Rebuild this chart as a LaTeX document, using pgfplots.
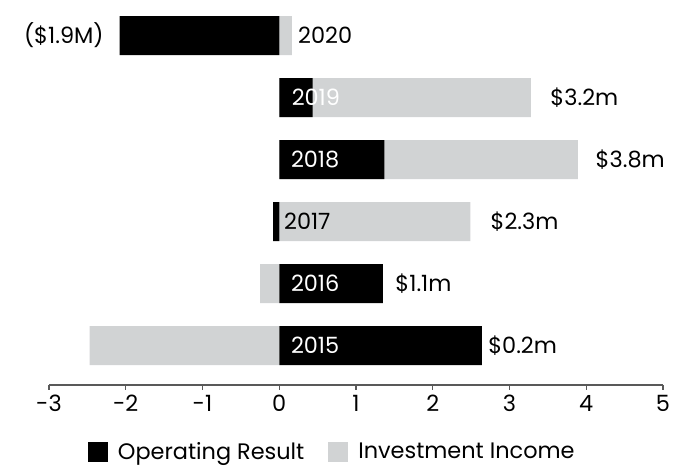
\documentclass[border=0pt]{standalone}
\usepackage{pgfplots}
\pgfplotsset{compat=1.18}
\usepackage{fontspec}
\setmainfont{Poppins}
\definecolor{invgray}{RGB}{209,211,212}
\newcommand{\lf}{\fontsize{16.8}{19}\selectfont}
\begin{document}
\begin{tikzpicture}
\path[use as bounding box] (0pt,0pt) rectangle (504.75pt,352.5pt);
\begin{axis}[
  at={(36.75pt,63.75pt)}, anchor=south west,
  scale only axis, width=460.5pt, height=284.6pt,
  xmin=-3, xmax=5, ymin=-0.637, ymax=5.484,
  axis x line=bottom, axis y line=none,
  x axis line style={-, draw=black!65, line width=0.8pt},
  xtick={-3,-2,-1,0,1,2,3,4,5},
  xticklabels={-3,-2,-1,0,1,2,3,4,5},
  tick align=outside, major tick length=3.75pt,
  xtick style={draw=black!65, line width=0.8pt},
  ytick=\empty,
  xticklabel style={font=\lf, text=black, yshift=-0.5pt},
  legend style={at={(0.462,-0.176)}, anchor=center, draw=none, fill=none,
    font=\lf, legend columns=2,
    /tikz/every even column/.append style={column sep=16pt}},
  clip=false,
]
\addlegendimage{legend image code/.code={\fill[black] (0pt,-7pt) rectangle (14pt,7pt); \path (20pt,0pt);}}
\addlegendentry{Operating Result}
\addlegendimage{legend image code/.code={\fill[invgray] (0pt,-7pt) rectangle (14pt,7pt); \path (20pt,0pt);}}
\addlegendentry{Investment Income}

\addplot[xbar, bar width=29.25pt, bar shift=0pt, fill=invgray, draw=none, forget plot]
  coordinates {(-2.47,0) (-0.25,1) (2.49,2) (3.89,3) (3.28,4) (0.165,5)};
\addplot[xbar, bar width=29.25pt, bar shift=0pt, fill=black, draw=none, forget plot]
  coordinates {(2.64,0) (1.35,1) (-0.08,2) (1.37,3) (0.435,4) (-2.08,5)};

\node[anchor=west, inner sep=0pt, font=\lf, text=black] at (axis cs:0.244,5) {2020};
\node[anchor=west, inner sep=0pt, font=\lf, text=white] at (axis cs:0.16,4) {2019};
\node[anchor=west, inner sep=0pt, font=\lf, text=white] at (axis cs:0.15,3) {2018};
\node[anchor=west, inner sep=0pt, font=\lf, text=black] at (axis cs:0.06,2) {2017};
\node[anchor=west, inner sep=0pt, font=\lf, text=white] at (axis cs:0.15,1) {2016};
\node[anchor=west, inner sep=0pt, font=\lf, text=white] at (axis cs:0.15,0) {2015};

\node[anchor=east, inner sep=0pt, font=\lf] at (axis cs:-2.285,5) {(\$1.9M)};
\node[anchor=west, inner sep=0pt, font=\lf] at (axis cs:3.53,4) {\$3.2m};
\node[anchor=west, inner sep=0pt, font=\lf] at (axis cs:4.12,3) {\$3.8m};
\node[anchor=west, inner sep=0pt, font=\lf] at (axis cs:2.75,2) {\$2.3m};
\node[anchor=west, inner sep=0pt, font=\lf] at (axis cs:1.51,1) {\$1.1m};
\node[anchor=west, inner sep=0pt, font=\lf] at (axis cs:2.72,0) {\$0.2m};
\end{axis}
\end{tikzpicture}
\end{document}
